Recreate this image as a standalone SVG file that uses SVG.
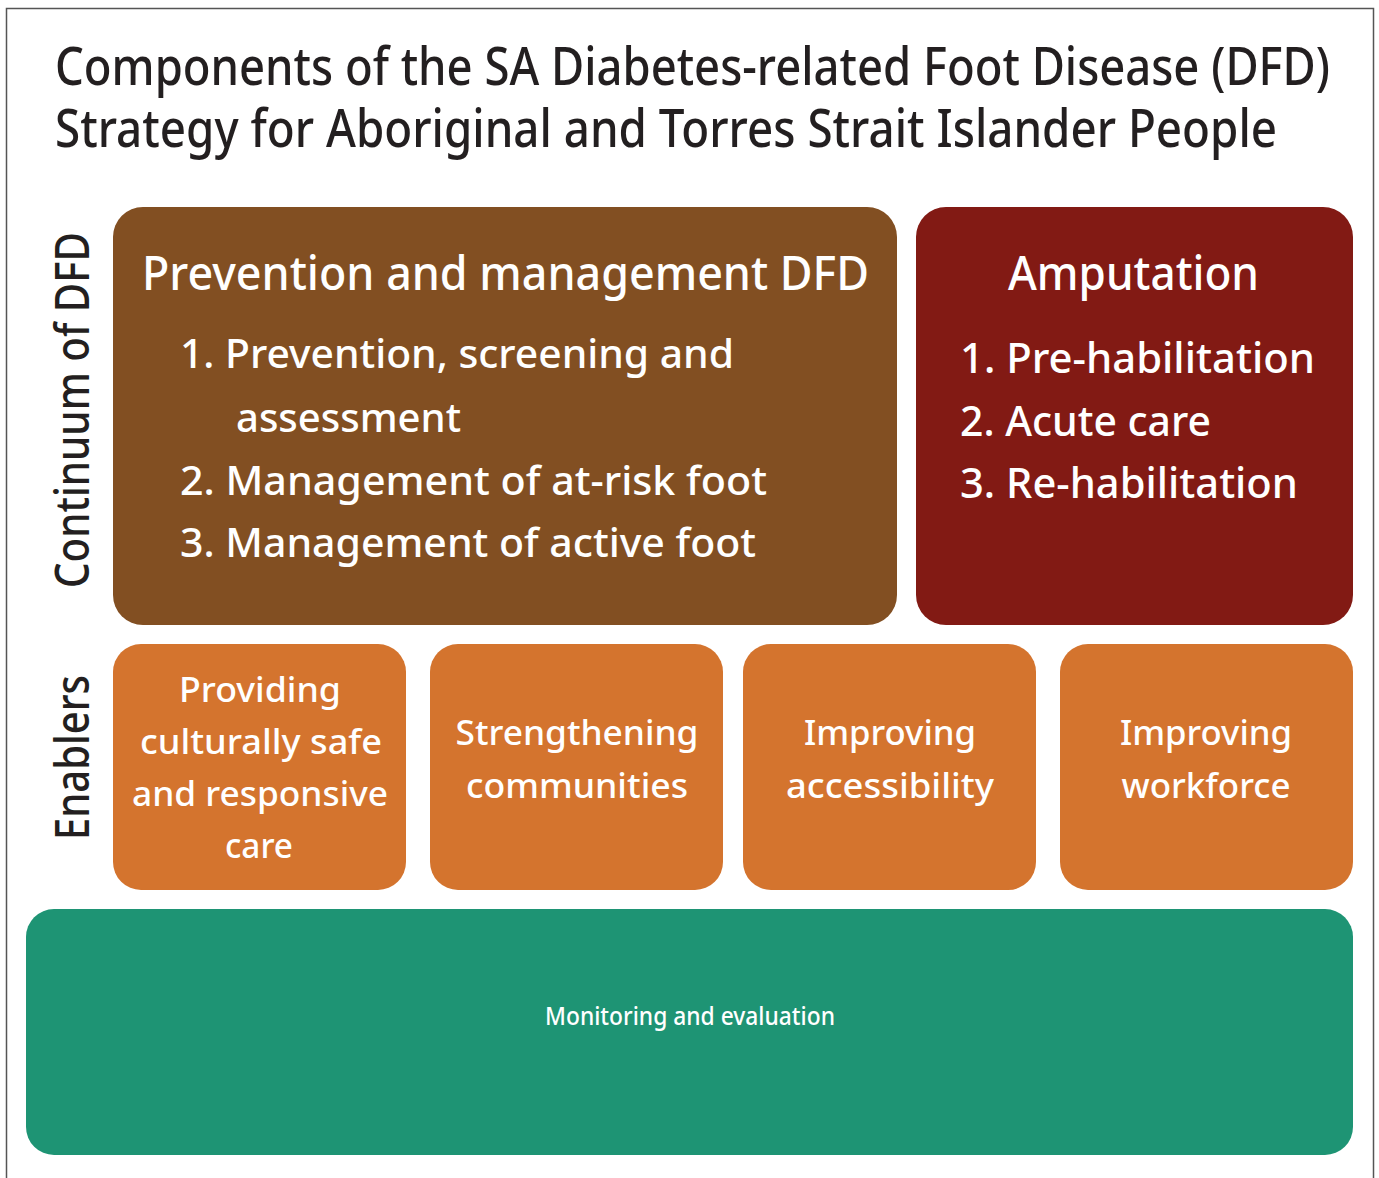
<svg xmlns="http://www.w3.org/2000/svg" width="1379" height="1178" viewBox="0 0 1379 1178">
  <style>
    text { font-family: "Noto Sans", "Open Sans", "DejaVu Sans", sans-serif; font-weight: 500; }
    .title { fill: #231f20; font-size: 52px; }
    .side { fill: #231f20; font-size: 47px; }
    .w { fill: #ffffff; }
    .head { font-size: 48px; }
    .item { font-size: 39px; }
    .aitem { font-size: 41px; }
    .en { font-size: 35px; text-anchor: middle; }
    .mon { font-size: 25px; text-anchor: middle; }
    .frame { fill: #ffffff; stroke: #555555; stroke-width: 1.5; }
  </style>

  <!-- outer frame -->
  <rect class="frame" x="6.5" y="8.5" width="1367" height="1190"/>

  <!-- heading -->
  <g id="title">
    <text class="title" x="55" y="85" textLength="1275" lengthAdjust="spacingAndGlyphs">Components of the SA Diabetes-related Foot Disease (DFD)</text>
    <text class="title" x="55" y="147" textLength="1222" lengthAdjust="spacingAndGlyphs">Strategy for Aboriginal and Torres Strait Islander People</text>
  </g>

  <!-- row labels, rotated -->
  <g id="label-continuum">
    <text class="side" transform="translate(89,588) rotate(-90)" x="0" y="0" textLength="356" lengthAdjust="spacingAndGlyphs">Continuum of DFD</text>
  </g>
  <g id="label-enablers">
    <text class="side" transform="translate(89,840) rotate(-90)" x="0" y="0" textLength="165" lengthAdjust="spacingAndGlyphs">Enablers</text>
  </g>

  <!-- continuum boxes -->
  <g id="prevention">
    <rect x="113" y="207" width="784" height="418" rx="30" fill="#824f22"/>
    <text class="w head" x="142" y="290" textLength="727" lengthAdjust="spacingAndGlyphs">Prevention and management DFD</text>
    <text class="w item" x="180" y="368" textLength="554" lengthAdjust="spacingAndGlyphs">1. Prevention, screening and</text>
    <text class="w item" x="236" y="432" textLength="225" lengthAdjust="spacingAndGlyphs">assessment</text>
    <text class="w item" x="180" y="495" textLength="587" lengthAdjust="spacingAndGlyphs">2. Management of at-risk foot</text>
    <text class="w item" x="180" y="557" textLength="576" lengthAdjust="spacingAndGlyphs">3. Management of active foot</text>
  </g>

  <g id="amputation">
    <rect x="916" y="207" width="437" height="418" rx="30" fill="#821a14"/>
    <text class="w head" x="1008" y="290" textLength="251" lengthAdjust="spacingAndGlyphs">Amputation</text>
    <text class="w aitem" x="960" y="373" textLength="355" lengthAdjust="spacingAndGlyphs">1. Pre-habilitation</text>
    <text class="w aitem" x="960" y="436" textLength="251" lengthAdjust="spacingAndGlyphs">2. Acute care</text>
    <text class="w aitem" x="960" y="498" textLength="338" lengthAdjust="spacingAndGlyphs">3. Re-habilitation</text>
  </g>

  <!-- enablers -->
  <g id="enabler-culture">
    <rect x="113" y="644" width="293" height="246" rx="28" fill="#d4742e"/>
    <text class="w en" x="260" y="702" textLength="162" lengthAdjust="spacingAndGlyphs">Providing</text>
    <text class="w en" x="261" y="754" textLength="242" lengthAdjust="spacingAndGlyphs">culturally safe</text>
    <text class="w en" x="260" y="806" textLength="256" lengthAdjust="spacingAndGlyphs">and responsive</text>
    <text class="w en" x="259" y="858" textLength="68" lengthAdjust="spacingAndGlyphs">care</text>
  </g>
  <g id="enabler-communities">
    <rect x="430" y="644" width="293" height="246" rx="28" fill="#d4742e"/>
    <text class="w en" x="577" y="745" textLength="243" lengthAdjust="spacingAndGlyphs">Strengthening</text>
    <text class="w en" x="577" y="798" textLength="222" lengthAdjust="spacingAndGlyphs">communities</text>
  </g>
  <g id="enabler-accessibility">
    <rect x="743" y="644" width="293" height="246" rx="28" fill="#d4742e"/>
    <text class="w en" x="890" y="745" textLength="172" lengthAdjust="spacingAndGlyphs">Improving</text>
    <text class="w en" x="890" y="798" textLength="208" lengthAdjust="spacingAndGlyphs">accessibility</text>
  </g>
  <g id="enabler-workforce">
    <rect x="1060" y="644" width="293" height="246" rx="28" fill="#d4742e"/>
    <text class="w en" x="1206" y="745" textLength="172" lengthAdjust="spacingAndGlyphs">Improving</text>
    <text class="w en" x="1206" y="798" textLength="169" lengthAdjust="spacingAndGlyphs">workforce</text>
  </g>

  <!-- monitoring band -->
  <g id="monitoring">
    <rect x="26" y="909" width="1327" height="246" rx="28" fill="#1e9474"/>
    <text class="w mon" x="690" y="1025" textLength="290" lengthAdjust="spacingAndGlyphs">Monitoring and evaluation</text>
  </g>

  <!-- no connectors in this layout -->
  <g id="connectors"/>
</svg>
